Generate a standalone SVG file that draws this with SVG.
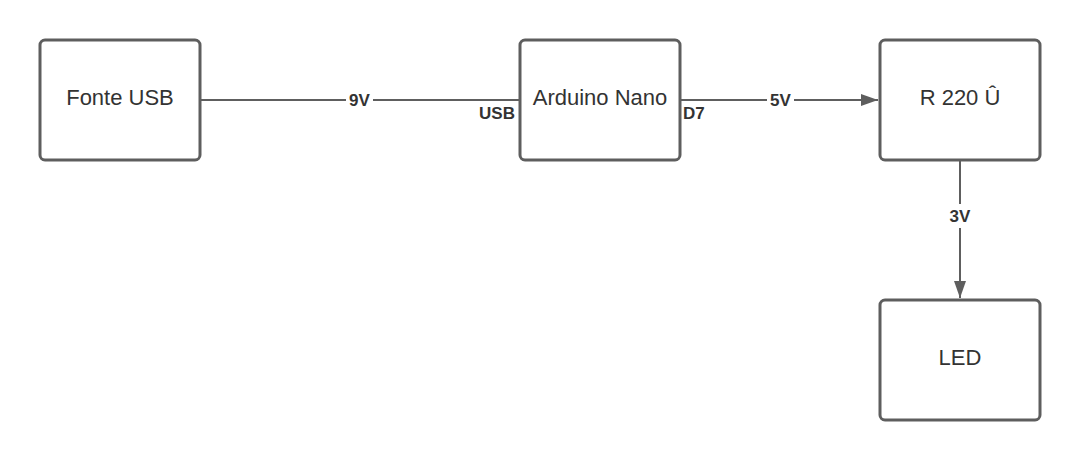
<svg xmlns="http://www.w3.org/2000/svg" width="1080" height="460" viewBox="0 0 1080 460">
<style>
.box{fill:#ffffff;stroke:#5e5e5e;stroke-width:3}
.t{font-family:"Liberation Sans",Arial,sans-serif;font-size:22px;fill:#333333;text-anchor:middle}
.l{font-family:"Liberation Sans",Arial,sans-serif;font-size:17px;font-weight:bold;fill:#333333}
.c{fill:none;stroke:#5e5e5e;stroke-width:2}
.bg{fill:#ffffff}
</style>
<defs>
<marker id="arr" markerWidth="18" markerHeight="12" refX="17" refY="6" orient="auto" markerUnits="userSpaceOnUse">
<path d="M0,0 L17,6 L0,12 Z" fill="#5e5e5e"/>
</marker>
</defs>
<rect width="1080" height="460" fill="#ffffff"/>
<g id="connectors">
<path class="c" d="M200,100 L520,100"/>
<path class="c" d="M680,100 L878,100" marker-end="url(#arr)"/>
<path class="c" d="M960,160 L960,298" marker-end="url(#arr)"/>
<rect class="bg" x="346" y="91" width="27" height="18"/>
<text class="l" x="359.5" y="106" text-anchor="middle">9V</text>
<rect class="bg" x="767" y="91" width="27" height="18"/>
<text class="l" x="780.5" y="106" text-anchor="middle">5V</text>
<rect class="bg" x="946" y="204" width="28" height="24"/>
<text class="l" x="960" y="222" text-anchor="middle">3V</text>
<text class="l" x="515" y="119" text-anchor="end">USB</text>
<text class="l" x="683" y="119">D7</text>
</g>
<g id="fonte-usb">
<rect class="box" x="40" y="40" width="160" height="120" rx="5"/>
<text class="t" x="120" y="105">Fonte USB</text>
</g>
<g id="arduino-nano">
<rect class="box" x="520" y="40" width="160" height="120" rx="5"/>
<text class="t" x="600" y="105">Arduino Nano</text>
</g>
<g id="resistor">
<rect class="box" x="880" y="40" width="160" height="120" rx="5"/>
<text class="t" x="960" y="105">R 220 Û</text>
</g>
<g id="led">
<rect class="box" x="880" y="300" width="160" height="120" rx="5"/>
<text class="t" x="960" y="365">LED</text>
</g>
</svg>
